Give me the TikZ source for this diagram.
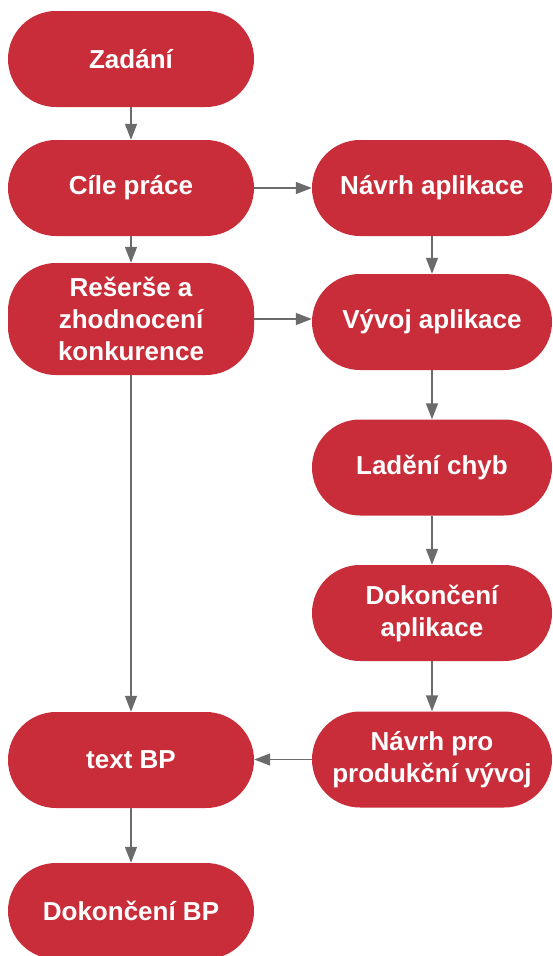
\documentclass[tikz,border=0pt]{standalone}
\usepackage{fontspec}
\setmainfont{Liberation Sans}
\usetikzlibrary{arrows.meta}
\definecolor{boxred}{HTML}{C92D39}
\definecolor{arrowgray}{HTML}{6B6B6B}
\begin{document}
\begin{tikzpicture}[x=1pt,y=-1pt,
  box/.style={fill=boxred, draw=none, rounded corners=48pt, minimum height=96pt,
    text=white, font=\fontsize{26}{32}\selectfont\bfseries, align=center, inner sep=0pt},
  lbox/.style={box, minimum width=246pt},
  rbox/.style={box, minimum width=240pt},
  conn/.style={draw=arrowgray, line width=1.5pt, -{Triangle[length=16pt,width=12pt]}}]
\useasboundingbox (0,0) rectangle (552,956);
\node[lbox] (zad) at (131,59) {Zadání};
\node[lbox] (cil) at (131,188) {Cíle práce};
\node[lbox, minimum height=112pt] (res) at (131,319) {Rešerše a\\zhodnocení\\konkurence};
\node[lbox] (txt) at (131,760) {text BP};
\node[lbox] (dbp) at (131,911) {Dokončení BP};
\node[rbox] (nav) at (432,188) {Návrh aplikace};
\node[rbox] (vyv) at (432,322) {Vývoj aplikace};
\node[rbox] (lad) at (432,467.5) {Ladění chyb};
\node[rbox] (dap) at (432,613) {Dokončení\\aplikace};
\node[rbox] (npv) at (432,759.5) {Návrh pro\\produkční vývoj};
\draw[conn] (zad) -- (cil);
\draw[conn] (cil) -- (res);
\draw[conn] (cil.east) -- (cil.east -| nav.west);
\draw[conn] (res.east) -- (res.east -| vyv.west);
\draw[conn] (res) -- (txt);
\draw[conn] (txt) -- (dbp);
\draw[conn] (nav) -- (vyv);
\draw[conn] (vyv) -- (lad);
\draw[conn] (lad) -- (dap);
\draw[conn] (dap) -- (npv);
\draw[conn] (npv.west) -- (npv.west -| txt.east);
\end{tikzpicture}
\end{document}
